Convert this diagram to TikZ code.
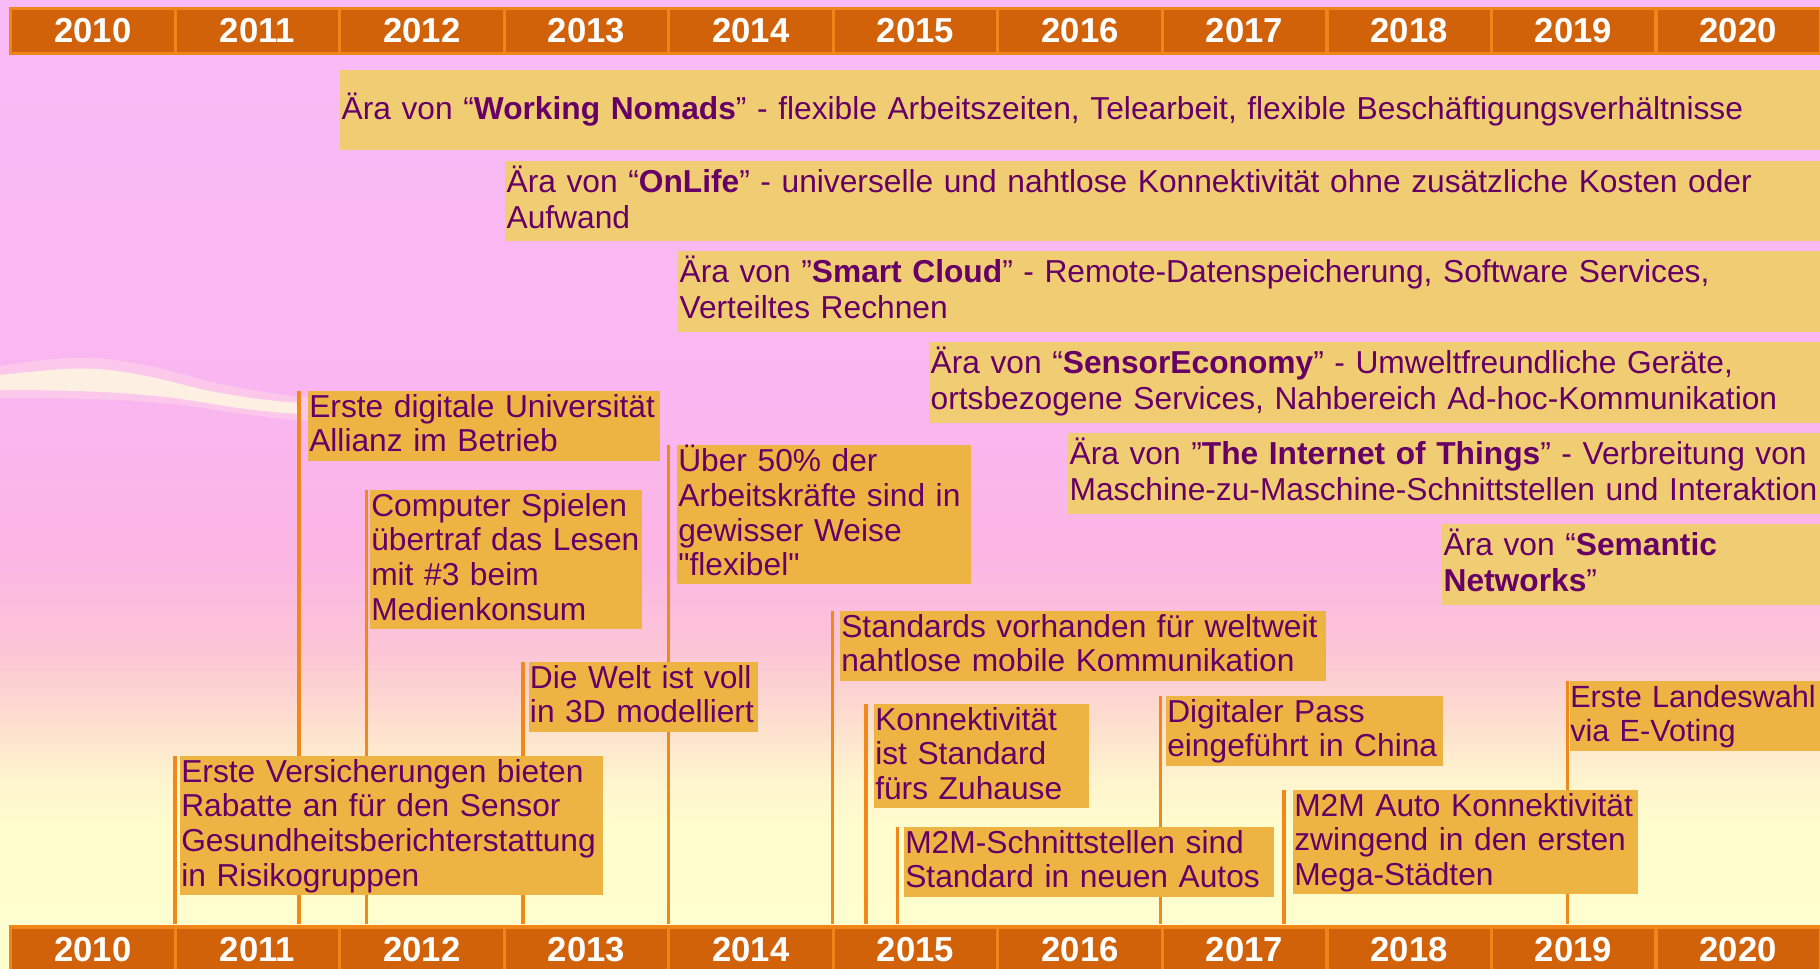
\documentclass[tikz,border=0pt]{standalone}
\usepackage{fontspec}
\setmainfont{Liberation Sans}
\newfontfamily\lib{Liberation Sans}
\definecolor{barfill}{RGB}{210,98,10}
\definecolor{barline}{RGB}{240,134,26}
\definecolor{erafill}{RGB}{240,205,115}
\definecolor{evfill}{RGB}{237,180,68}
\definecolor{txt}{RGB}{102,0,102}
\definecolor{lineor}{RGB}{240,136,28}
\definecolor{bgA}{RGB}{249,187,246}
\definecolor{bgB}{RGB}{250,182,240}
\definecolor{bgC}{RGB}{251,182,228}
\definecolor{bgD}{RGB}{252,197,214}
\definecolor{bgE}{RGB}{253,222,206}
\definecolor{bgF}{RGB}{254,244,206}
\definecolor{bgG}{RGB}{255,253,205}
\definecolor{bgH}{RGB}{255,254,206}
\definecolor{cloudc}{RGB}{255,254,225}
\pgfdeclareverticalshading{skybg}{100bp}{color(0bp)=(bgH); color(25bp)=(bgH); color(32.1bp)=(bgG); color(34.8bp)=(bgF); color(37.8bp)=(bgE); color(41.5bp)=(bgD); color(46.1bp)=(bgC); color(54.4bp)=(bgB); color(75bp)=(bgA); color(100bp)=(bgA)}
\pgfdeclarelayer{bg}
\pgfdeclarelayer{lines}
\pgfsetlayers{bg,lines,main}
\newcommand\evfont{\lib\fontsize{23.8pt}{26pt}\selectfont}
\newcommand\erafont{\lib\fontsize{23.8pt}{27pt}\selectfont}
\newcommand\yrfont{\lib\fontsize{26pt}{30pt}\selectfont\bfseries}
\newcommand\evs{\rule[-6.5pt]{0pt}{26pt}}
\newcommand\ers{\rule[-6.75pt]{0pt}{27pt}}
\tikzset{
  yearcell/.style={draw=barline, line width=2.6pt, fill=barfill, text=white, font=\yrfont,
    minimum width=123.375pt, minimum height=34.1pt, inner sep=0pt},
  era/.style={fill=erafill, text=txt, font=\erafont, anchor=north west, align=left,
    inner xsep=1pt, inner ysep=0pt, minimum height=60pt},
  event/.style={fill=evfill, text=txt, font=\evfont, anchor=north west, align=left,
    inner xsep=0.75pt, inner ysep=0pt},
  tick/.style={draw=lineor, line width=2.6pt},
}
\begin{document}
\begin{tikzpicture}[x=0.75pt,y=-0.75pt]
\path[use as bounding box] (0,0) rectangle (1820,969);
\clip (0,0) rectangle (1820,969);
% background
\begin{pgfonlayer}{bg}
\shade[shading=skybg] (0,0) rectangle (1820,969);
\fill[cloudc, opacity=0.25] (0,366) .. controls (40,360) and (80,354) .. (115,360) .. controls (160,366) and (190,377) .. (220,384) .. controls (260,392) and (290,396) .. (330,400) -- (330,422) .. controls (280,420) and (240,414) .. (190,406) .. controls (140,400) and (90,398) .. (0,398) -- cycle;
\fill[cloudc, opacity=0.75] (0,375) .. controls (40,371) and (75,366) .. (110,370) .. controls (150,375) and (175,383) .. (205,390) .. controls (240,397) and (270,401) .. (300,403) -- (300,414) .. controls (265,412) and (235,408) .. (195,401) .. controls (150,394) and (100,390) .. (0,390) -- cycle;
\end{pgfonlayer}
% year bars
\foreach \i/\yr in {0/2010,1/2011,2/2012,3/2013,4/2014,5/2015,6/2016,7/2017,8/2018,9/2019,10/2020}{
  \node[yearcell] (top\yr) at ({93+164.5*\i},31) {\yr};
  \node[yearcell] (bot\yr) at ({93+164.5*\i},949.5) {\yr};
}
\coordinate (barTop) at (0,924);
% era boxes
\node[era, text width=1116pt] (era1) at (340,70) {\ers Ära von “\textbf{Working Nomads}” - flexible Arbeitszeiten, Telearbeit, flexible Beschäftigungsverhältnisse};
\node[era, text width=992pt, minimum height=60pt] (era2) at (505,161) {\ers Ära von “\textbf{OnLife}” - universelle und nahtlose Konnektivität ohne zusätzliche Kosten oder\\\ers Aufwand};
\node[era, text width=862pt, minimum height=60.75pt] (era3) at (678,251) {\ers Ära von ”\textbf{Smart Cloud}” - Remote-Datenspeicherung, Software Services,\\\ers Verteiltes Rechnen};
\node[era, text width=674pt, minimum height=60.75pt] (era4) at (929,342) {\ers Ära von “\textbf{SensorEconomy}” - Umweltfreundliche Geräte,\\\ers ortsbezogene Services, Nahbereich Ad-hoc-Kommunikation};
\node[era, text width=570pt, minimum height=60.75pt] (era5) at (1068,433) {\ers Ära von ”\textbf{The Internet of Things}” - Verbreitung von\\\ers Maschine-zu-Maschine-Schnittstellen und Interaktion};
\node[era, text width=289pt, minimum height=60.75pt] (era6) at (1442,524) {\ers Ära von “\textbf{Semantic}\\\ers \textbf{Networks}”};
% event boxes
\node[event, text width=315.75pt, minimum height=104pt] (e1) at (180,756) {\evs Erste Versicherungen bieten\\\evs Rabatte an für den Sensor\\\evs Gesundheitsberichterstattung\\\evs in Risikogruppen};
\node[event, text width=262pt, minimum height=52pt] (e2) at (308,391) {\evs Erste digitale Universität\\\evs Allianz im Betrieb};
\node[event, text width=202pt, minimum height=104pt] (e3) at (370,490) {\evs Computer Spielen\\\evs übertraf das Lesen\\\evs mit \#3 beim\\\evs Medienkonsum};
\node[event, text width=170pt, minimum height=52pt] (e4) at (528.7,662) {\evs Die Welt ist voll\\\evs in 3D modelliert};
\node[event, text width=219pt, minimum height=104pt] (e5) at (677,445) {\evs Über 50\% der\\\evs Arbeitskräfte sind in\\\evs gewisser Weise\\\evs "flexibel"};
\node[event, text width=362.8pt, minimum height=52pt] (e6) at (840,611) {\evs Standards vorhanden für weltweit\\\evs nahtlose mobile Kommunikation};
\node[event, text width=159.75pt, minimum height=78pt] (e7) at (874,704) {\evs Konnektivität\\\evs ist Standard\\\evs fürs Zuhause};
\node[event, text width=275.5pt, minimum height=52pt] (e8) at (904,827) {\evs M2M-Schnittstellen sind\\\evs Standard in neuen Autos};
\node[event, text width=205.8pt, minimum height=52pt] (e9) at (1166,696) {\evs Digitaler Pass\\\evs eingeführt in China};
\node[event, text width=257.25pt, minimum height=78pt] (e10) at (1293,790) {\evs M2M Auto Konnektivität\\\evs zwingend in den ersten\\\evs Mega-Städten};
\node[event, text width=192.75pt, minimum height=52pt, inner xsep=0pt, font=\lib\fontsize{23pt}{26pt}\selectfont] (e11) at (1570,681) {\evs Erste Landeswahl\\\evs via E-Voting};
% connector lines
\foreach \e/\lx in {e1/175, e2/299, e3/366.5, e4/523, e5/668.7, e6/832.5, e7/866, e8/897.5, e9/1160.7, e10/1284, e11/1567.5}{
  \coordinate (x\e) at (\lx,0);
}
\begin{pgfonlayer}{lines}
\foreach \e in {e1,e2,e3,e4,e5,e6,e7,e8,e9,e10,e11}{
  \draw[tick] (x\e |- \e.north) -- (x\e |- barTop);
}
\end{pgfonlayer}
\end{tikzpicture}
\end{document}
